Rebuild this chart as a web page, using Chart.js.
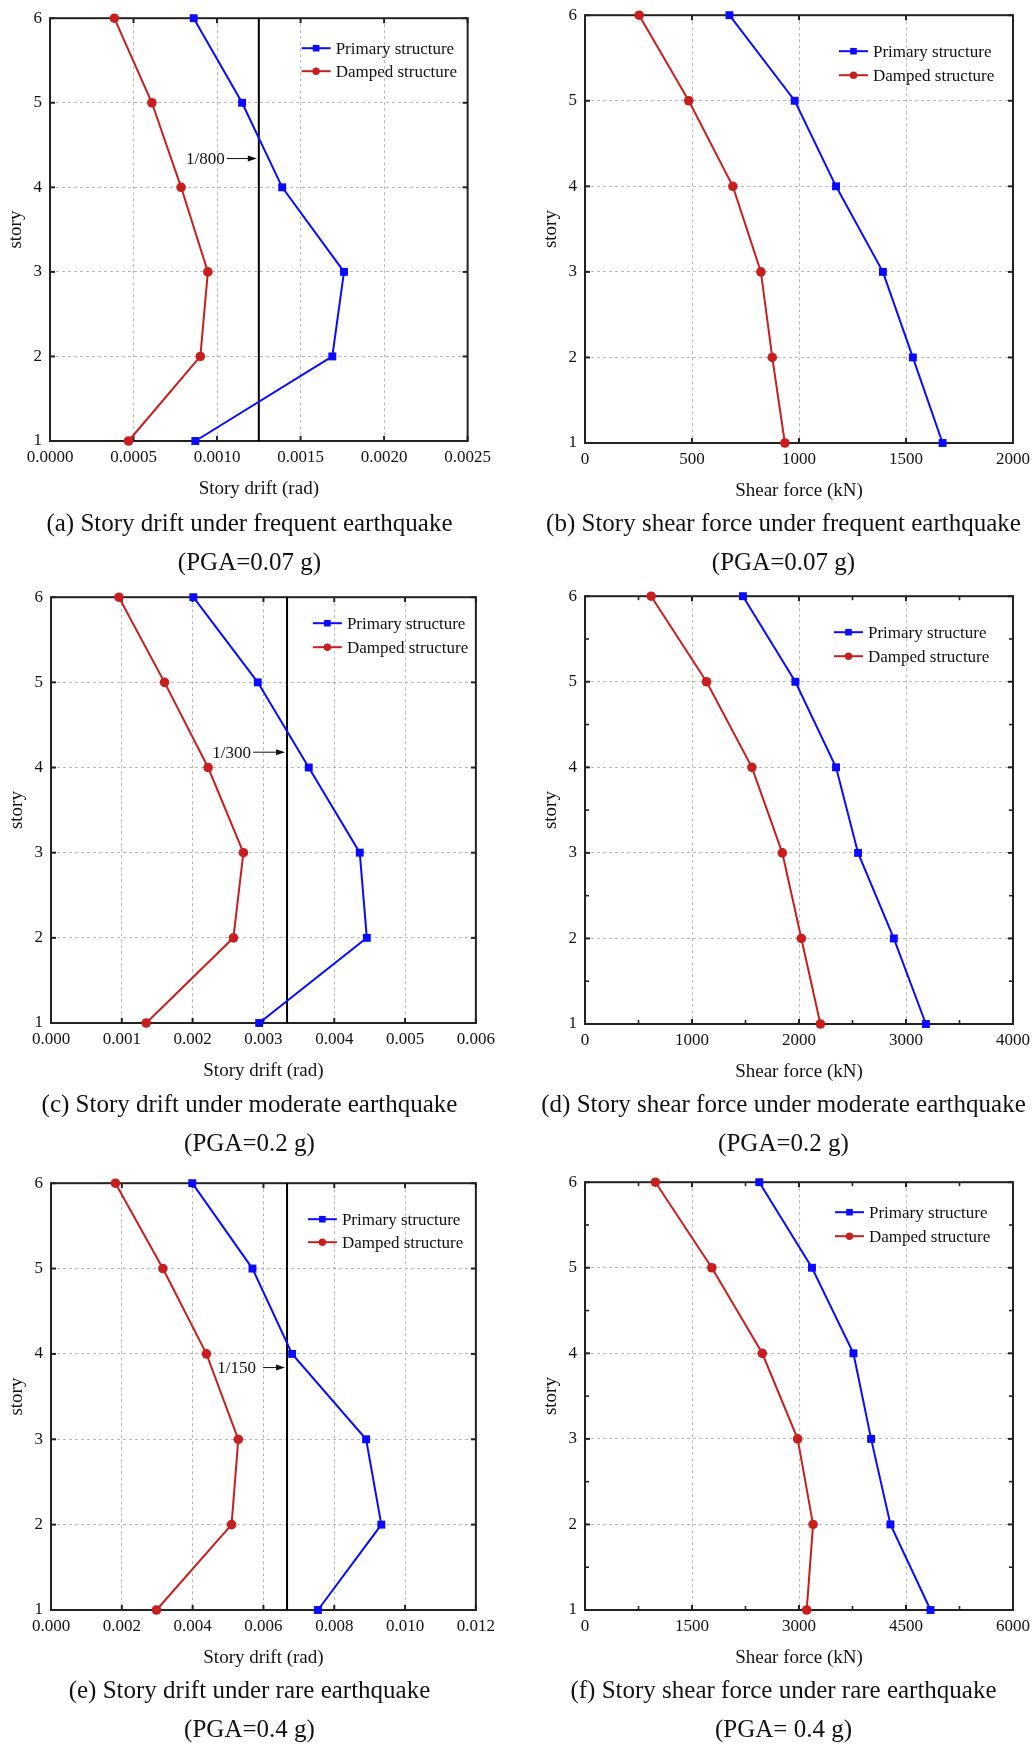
<!DOCTYPE html>
<html><head><meta charset="utf-8">
<script src="https://cdn.jsdelivr.net/npm/chart.js@4.4.1/dist/chart.umd.min.js"></script>
<style>
html,body{margin:0;padding:0;background:#fff;}
body{width:1034px;height:1747px;position:relative;overflow:hidden;font-family:"Liberation Serif","Times New Roman",serif;}
.pnl{position:absolute;}
.cap{position:absolute;width:517px;text-align:center;font-size:25px;color:#111;line-height:39px;white-space:nowrap;}
</style></head><body>
<script>
// ---------- data ----------
const stories = [1, 2, 3, 4, 5, 6];
const seriesNames = ['Primary structure', 'Damped structure'];
// (a) story drift, frequent earthquake
const driftFreqPrimary = [0.00087, 0.00169, 0.00176, 0.00139, 0.00115, 0.00086];
const driftFreqDamped  = [0.00047, 0.00090, 0.000945, 0.000785, 0.00061, 0.000385];
// (b) shear force, frequent earthquake
const shearFreqPrimary = [1671, 1532, 1392, 1173, 980, 675];
const shearFreqDamped  = [934, 875, 822, 691, 485, 253];
// (c) story drift, moderate earthquake
const driftModPrimary = [0.00294, 0.00446, 0.00436, 0.00364, 0.00292, 0.00201];
const driftModDamped  = [0.001345, 0.002576, 0.002717, 0.002219, 0.001603, 0.000959];
// (d) shear force, moderate earthquake
const shearModPrimary = [3186, 2886, 2552, 2346, 1966, 1476];
const shearModDamped  = [2200, 2022, 1844, 1560, 1136, 618];
// (e) story drift, rare earthquake
const driftRarePrimary = [0.00754, 0.00933, 0.00890, 0.00681, 0.00569, 0.00399];
const driftRareDamped  = [0.00298, 0.00510, 0.00529, 0.00439, 0.00316, 0.00182];
// (f) shear force, rare earthquake
const shearRarePrimary = [4844, 4282, 4011, 3763, 3182, 2443];
const shearRareDamped  = [3108, 3197, 2981, 2485, 1778, 987];
// drift limits
const driftLimits = [1 / 800, 1 / 300, 1 / 150];
const limitLabels = ['1/800', '1/300', '1/150'];
const limitLabelStory = [4.34, 4.18, 3.84];
// tick labels
const xTicksA = ['0.0000', '0.0005', '0.0010', '0.0015', '0.0020', '0.0025'];
const xTicksB = ['0', '500', '1000', '1500', '2000'];
const xTicksC = ['0.000', '0.001', '0.002', '0.003', '0.004', '0.005', '0.006'];
const xTicksD = ['0', '1000', '2000', '3000', '4000'];
const xTicksE = ['0.000', '0.002', '0.004', '0.006', '0.008', '0.010', '0.012'];
const xTicksF = ['0', '1500', '3000', '4500', '6000'];
const yTicks = ['1', '2', '3', '4', '5', '6'];
const xTitles = ['Story drift (rad)', 'Shear force (kN)'];
const yTitle = 'story';
const captions = [
  ['(a) Story drift under frequent earthquake', '(PGA=0.07 g)'],
  ['(b) Story shear force under frequent earthquake', '(PGA=0.07 g)'],
  ['(c) Story drift under moderate earthquake', '(PGA=0.2 g)'],
  ['(d) Story shear force under moderate earthquake', '(PGA=0.2 g)'],
  ['(e) Story drift under rare earthquake', '(PGA=0.4 g)'],
  ['(f) Story shear force under rare earthquake', '(PGA= 0.4 g)']
];

// ---------- layout / style ----------
const FONT = '"Liberation Serif", "Times New Roman", serif';
const BLUE = '#0a0aff';
const RED = '#c81e1e';
const INK = '#111';
const panels = [
  {box:[50,14,472,441],    xt:xTicksA, s:[driftFreqPrimary, driftFreqDamped], title:0, limit:0, leg:[166,30,53], minor:false, arrow:[30,2], cap:[-9,503]},
  {box:[585,11,1013,443],  xt:xTicksB, s:[shearFreqPrimary, shearFreqDamped], title:1, limit:null, leg:[174,36,60], minor:false, cap:[525,503]},
  {box:[51,593,476,1023],  xt:xTicksC, s:[driftModPrimary, driftModDamped], title:0, limit:1, leg:[163,26,50], minor:false, arrow:[32,2], cap:[-9,1084]},
  {box:[585,592,1013,1024],xt:xTicksD, s:[shearModPrimary, shearModDamped], title:1, limit:null, leg:[179,36,60], minor:true, cap:[525,1084]},
  {box:[51,1179,476,1610], xt:xTicksE, s:[driftRarePrimary, driftRareDamped], title:0, limit:2, leg:[168,36,59], minor:false, arrow:[22,7], cap:[-9,1670]},
  {box:[585,1178,1013,1610],xt:xTicksF, s:[shearRarePrimary, shearRareDamped], title:1, limit:null, leg:[178,30,54], minor:true, cap:[525,1670]}
];

function seg(ctx, x0, y0, x1, y1){ ctx.beginPath(); ctx.moveTo(x0,y0); ctx.lineTo(x1,y1); ctx.stroke(); }

function makeDeco(p){
  return {
    id:'deco',
    beforeDatasetsDraw(chart){
      const ctx = chart.ctx, xs = chart.scales.x, ys = chart.scales.y;
      const {left, right, top, bottom} = chart.chartArea;
      ctx.save();
      ctx.strokeStyle = '#222'; ctx.lineWidth = 2;
      ctx.strokeRect(left, top, right-left, bottom-top);
      xs.ticks.forEach(t => { const px = xs.getPixelForValue(t.value); seg(ctx,px,bottom,px,bottom-5); seg(ctx,px,top,px,top+5); });
      ys.ticks.forEach(t => { const py = ys.getPixelForValue(t.value); seg(ctx,left,py,left+5,py); seg(ctx,right,py,right-5,py); });
      if (p.minor){
        ctx.lineWidth = 1.6;
        for (let i=0;i<xs.ticks.length-1;i++){ const v=(xs.ticks[i].value+xs.ticks[i+1].value)/2, px=xs.getPixelForValue(v); seg(ctx,px,bottom,px,bottom-4); seg(ctx,px,top,px,top+4); }
        for (let i=0;i<ys.ticks.length-1;i++){ const v=(ys.ticks[i].value+ys.ticks[i+1].value)/2, py=ys.getPixelForValue(v); seg(ctx,left,py,left+4,py); seg(ctx,right,py,right-4,py); }
      }
      ctx.restore();
    },
    afterDatasetsDraw(chart){
      const ctx = chart.ctx, xs = chart.scales.x, ys = chart.scales.y;
      const {right, top} = chart.chartArea;
      ctx.save();
      // legend
      const x0 = right - p.leg[0];
      ctx.font = '17px ' + FONT; ctx.textBaseline = 'middle'; ctx.textAlign = 'left';
      [0,1].forEach(k => {
        const ds = chart.data.datasets[k];
        const y = top + p.leg[k+1];
        ctx.strokeStyle = ds.borderColor; ctx.fillStyle = ds.borderColor; ctx.lineWidth = 2;
        seg(ctx, x0, y, x0+29, y);
        if (ds.pointStyle === 'rect'){ ctx.fillRect(x0+14.5-3.3, y-3.3, 6.6, 6.6); }
        else { ctx.beginPath(); ctx.arc(x0+14.5, y, 3.7, 0, Math.PI*2); ctx.fill(); }
        ctx.fillStyle = INK;
        ctx.fillText(ds.label, x0+34, y+1);
      });
      // limit annotation
      if (p.limit !== null){
        const xp = xs.getPixelForValue(driftLimits[p.limit]);
        const yp = ys.getPixelForValue(limitLabelStory[p.limit]);
        const [alen, gap] = p.arrow;
        const ax1 = xp - 2, ax0 = ax1 - alen;
        ctx.strokeStyle = '#111'; ctx.fillStyle = '#111'; ctx.lineWidth = 1;
        seg(ctx, ax0, yp, ax1-6, yp);
        ctx.beginPath(); ctx.moveTo(ax1, yp); ctx.lineTo(ax1-9, yp-3); ctx.lineTo(ax1-9, yp+3); ctx.closePath(); ctx.fill();
        ctx.textAlign = 'right'; ctx.fillStyle = INK;
        ctx.fillText(limitLabels[p.limit], ax0 - gap, yp+1);
      }
      ctx.restore();
    }
  };
}

function makeChart(p, idx){
  const [L,T,R,B] = p.box;
  const padT = 14, yW = 60, xH = 64, padR = 25;
  const W = (R-L) + yW + padR, H = (B-T) + padT + xH;
  const div = document.createElement('div'); div.className = 'pnl';
  div.style.left = (L-yW)+'px'; div.style.top = (T-padT)+'px';
  div.style.width = W+'px'; div.style.height = H+'px';
  const cv = document.createElement('canvas');
  cv.width = W; cv.height = H; cv.style.width = W+'px'; cv.style.height = H+'px';
  div.appendChild(cv); document.body.appendChild(div);

  const xVals = p.xt.map(Number);
  const yVals = yTicks.map(Number);
  const datasets = [
    {label:seriesNames[0], data:stories.map((s,i)=>({x:p.s[0][i], y:s})), showLine:true, borderColor:BLUE, backgroundColor:BLUE,
     pointStyle:'rect', pointRadius:5.6, pointBorderWidth:0, borderWidth:2, tension:0, clip:false},
    {label:seriesNames[1], data:stories.map((s,i)=>({x:p.s[1][i], y:s})), showLine:true, borderColor:RED, backgroundColor:RED,
     pointStyle:'circle', pointRadius:4.8, pointBorderWidth:0, borderWidth:2, tension:0, clip:false}
  ];
  if (p.limit !== null){
    const lim = driftLimits[p.limit];
    datasets.push({label:'limit', data:[{x:lim, y:yVals[0]}, {x:lim, y:yVals[yVals.length-1]}], showLine:true,
      borderColor:'#000', backgroundColor:'#000', borderWidth:2, pointRadius:0, clip:false});
  }
  const grid = {color:'#b8b8b8', lineWidth:1, drawTicks:false};
  const border = {display:false, dash:[3,3]};
  new Chart(cv, {
    type:'scatter',
    data:{datasets},
    plugins:[makeDeco(p)],
    options:{
      responsive:false, animation:false, devicePixelRatio:1,
      layout:{padding:{top:padT, right:padR, left:0, bottom:0}},
      plugins:{legend:{display:false}, tooltip:{enabled:false}},
      scales:{
        x:{type:'linear', min:xVals[0], max:xVals[xVals.length-1],
           afterBuildTicks:s=>{ s.ticks = xVals.map(v=>({value:v})); },
           afterFit:s=>{ s.height = xH; },
           ticks:{autoSkip:false, maxRotation:0, padding:6, color:INK, font:{family:FONT, size:17}, callback:(v,i)=>p.xt[i]},
           grid, border,
           title:{display:true, text:xTitles[p.title], color:INK, font:{family:FONT, size:19}, padding:{top:0, bottom:5}}},
        y:{type:'linear', min:yVals[0], max:yVals[yVals.length-1],
           afterBuildTicks:s=>{ s.ticks = yVals.map(v=>({value:v})); },
           afterFit:s=>{ s.width = yW; },
           ticks:{autoSkip:false, padding:8, color:INK, font:{family:FONT, size:17}, callback:(v,i)=>yTicks[i]},
           grid, border,
           title:{display:true, text:yTitle, color:INK, font:{family:FONT, size:19}, padding:{top:15, bottom:0}}}
      }
    }
  });

  const cap = document.createElement('div'); cap.className = 'cap';
  cap.style.left = p.cap[0]+'px'; cap.style.top = p.cap[1]+'px';
  cap.innerHTML = captions[idx][0] + '<br>' + captions[idx][1];
  document.body.appendChild(cap);
}

panels.forEach(makeChart);
</script>
</body></html>
